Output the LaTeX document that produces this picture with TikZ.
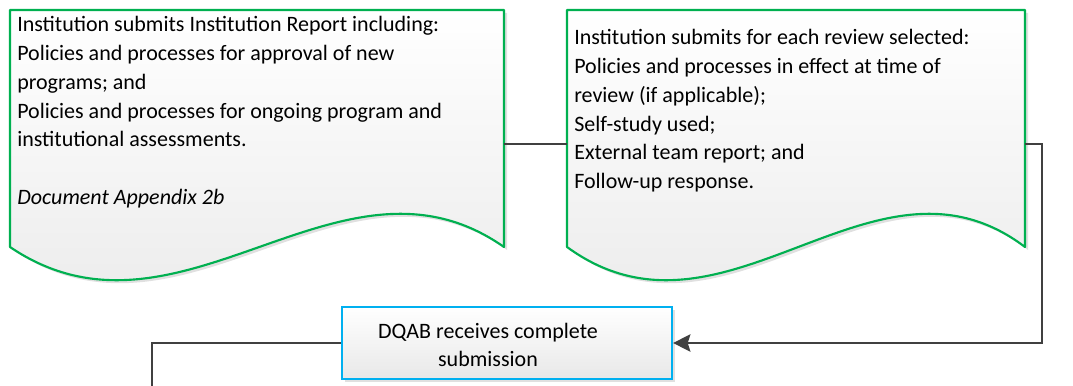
\documentclass[tikz,border=0pt]{standalone}
\usepackage{fontspec}
\setmainfont{Carlito}
\usetikzlibrary{arrows.meta}
\definecolor{docgreen}{HTML}{00B050}
\definecolor{boxblue}{HTML}{00B0F0}
\definecolor{conn}{HTML}{404040}
\begin{document}
\begin{tikzpicture}[x=0.75pt,y=-0.75pt,
  txt/.style={font=\fontsize{16.5pt}{21.6pt}\selectfont, inner sep=0pt, align=left, text=black},
  docshape/.style={draw=docgreen, line width=1.6pt, top color=white, bottom color=black!9, line join=round},
  shadowshape/.style={fill=black!12, draw=none},
  connector/.style={draw=conn, line width=1.5pt},
  procbox/.style={draw=boxblue, line width=1.6pt, top color=white, bottom color=black!9,
    minimum width=330*0.75pt, minimum height=72*0.75pt, inner sep=0pt},
  proctext/.style={inner sep=0pt, align=center, font=\fontsize{16.5pt}{21pt}\selectfont}
]
\useasboundingbox (0,0) rectangle (1073,385);
% shadows
\path[shadowshape] (13,13) -- (507,13) -- (507,250) .. controls (343,135) and (183,365) .. (13,250) -- cycle;
\path[shadowshape] (570,13) -- (1028,13) -- (1028,250) .. controls (876,135) and (728,365) .. (570,250) -- cycle;
\path[shadowshape] (345,310) rectangle (675,382);
% document shapes
\path[docshape] (10,10) -- (504,10) -- (504,247) .. controls (340,132) and (180,362) .. (10,247) -- cycle;
\path[docshape] (567,10) -- (1025,10) -- (1025,247) .. controls (873,132) and (725,362) .. (567,247) -- cycle;
% texts
\node[txt, anchor=base west] (t1) at (17,31.5) {Institution submits Institution Report including:};
\node[txt, anchor=north west] (t1b) at (t1.base west) {\\[-21.6pt]\strut\\Policies and processes for approval of new\\programs; and\\Policies and processes for ongoing program and\\institutional assessments.\\\\\textit{Document Appendix 2b}};
\node[txt, anchor=base west] (t2) at (574,44.5) {Institution submits for each review selected:};
\node[txt, anchor=north west] (t2b) at (t2.base west) {\\[-21.6pt]\strut\\Policies and processes in effect at time of\\review (if applicable);\\Self-study used;\\External team report; and\\Follow-up response.};
% process box
\node[procbox] (dqab) at (507,343) {};
\node[proctext] (dqabtext) at (488,345) {DQAB receives complete\\submission};
% connectors
\coordinate (d1out) at (504,144);
\coordinate (d2in) at (567,144);
\coordinate (d2out) at (1025,144);
\coordinate (bend1) at (1042,144);
\coordinate (bend2) at (1042,343);
\coordinate (bend3) at (152,343);
\coordinate (down) at (152,386);
\draw[connector] (d1out) -- (d2in);
\draw[connector, -{Stealth[length=13pt,width=13pt,inset=2pt]}] (d2out) -- (bend1) -- (bend2) -- (dqab.east);
\draw[connector] (dqab.west) -- (bend3) -- (down);
\end{tikzpicture}
\end{document}
